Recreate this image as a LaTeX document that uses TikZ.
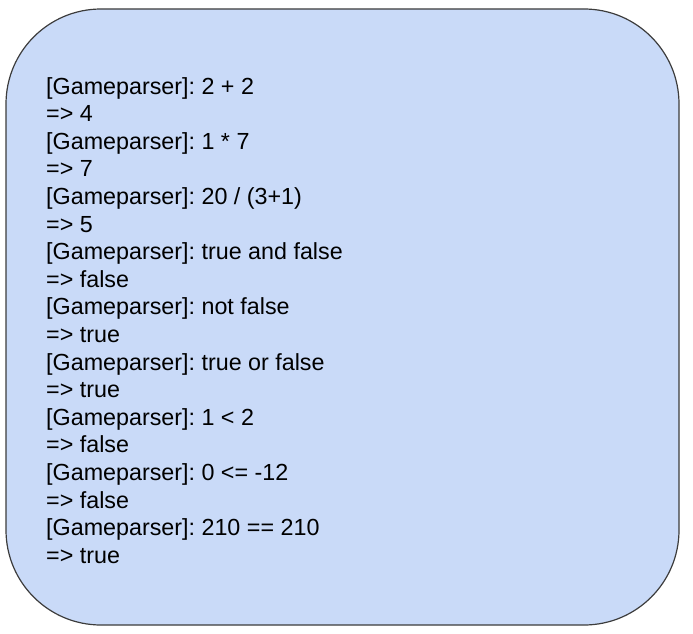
\documentclass[tikz,border=0pt]{standalone}
\usepackage{fontspec}
\setmainfont{Liberation Sans}
\frenchspacing
\definecolor{panelblue}{HTML}{C9DAF8}
\definecolor{panelline}{HTML}{3C3C3C}
\tikzset{
	panel/.style={draw=panelline, fill=panelblue, line width=1.2pt, rounded corners=95pt},
	logline/.style={inner sep=0pt, anchor=base west, font=\fontsize{23.3}{26}\selectfont}
}
\begin{document}
\begin{tikzpicture}[x=1pt,y=-1pt]
	\useasboundingbox (0,0) rectangle (693,634);

	% riquadro
	\draw[panel] (6,9) rectangle (679,625);

	% righe della sessione
	\foreach \txt [count=\i] in {{[Gameparser]: 2 + 2}, {=> 4},
		{[Gameparser]: 1 * 7}, {=> 7},
		{[Gameparser]: 20 / (3+1)}, {=> 5},
		{[Gameparser]: true and false}, {=> false},
		{[Gameparser]: not false}, {=> true},
		{[Gameparser]: true or false}, {=> true},
		{[Gameparser]: 1 < 2}, {=> false},
		{[Gameparser]: 0 <= -12}, {=> false},
		{[Gameparser]: 210 == 210}, {=> true}}
		\node[logline] (line\i) at (46, {94+27.6*(\i-1)}) {\txt};

\end{tikzpicture}
\end{document}
